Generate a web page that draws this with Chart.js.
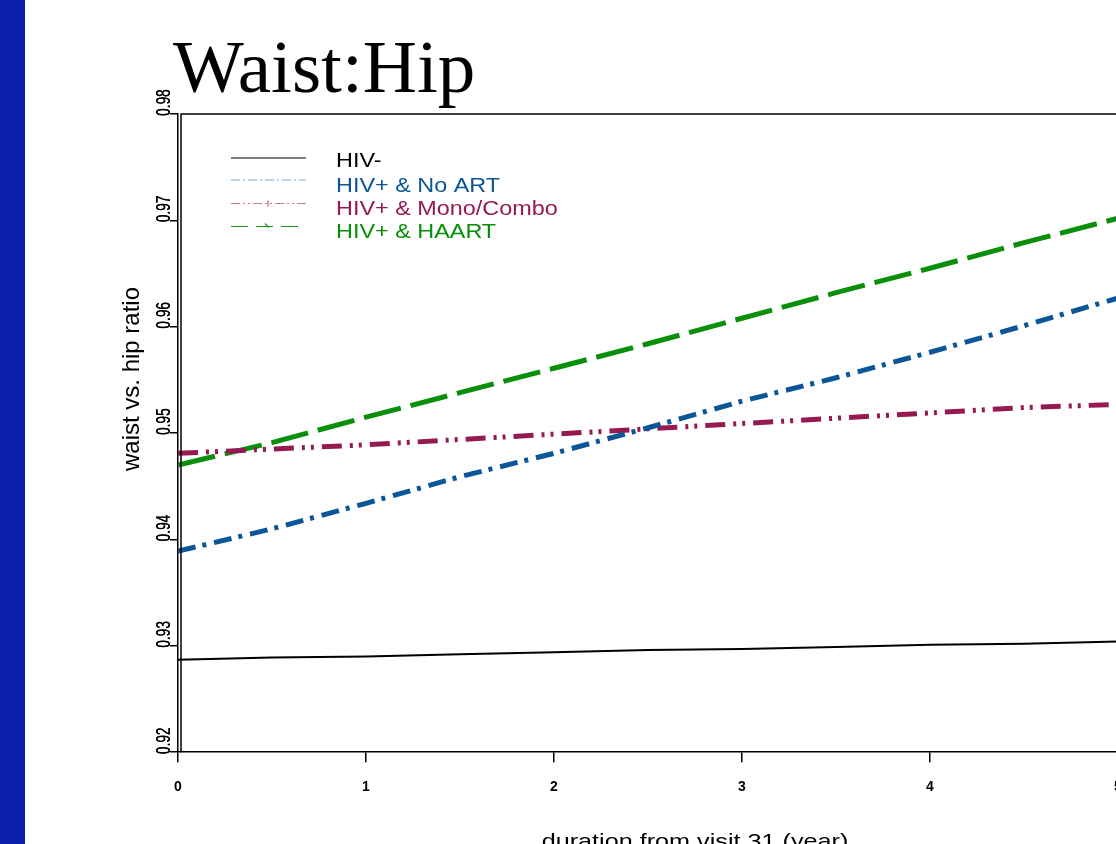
<!DOCTYPE html>
<html>
<head>
<meta charset="utf-8">
<title>Waist:Hip</title>
<script src="https://cdn.jsdelivr.net/npm/chart.js@4/dist/chart.umd.min.js"></script>
<style>
    html, body { margin: 0; padding: 0; background: #fff; overflow: hidden; width: 1116px; height: 844px; }
    #sideBar { position: absolute; left: 0; top: 0; width: 25px; height: 844px; background: #0a1fab; }
    #chartWrap { position: absolute; left: 0; top: 0; width: 1240px; height: 900px; }
</style>
</head>
<body>
<div id="chartWrap"><canvas id="waistChart"></canvas></div>
<div id="sideBar"></div>

<script>
// values (x = years since visit 31)
const years = [0, 0.5, 1, 1.5, 2, 2.5, 3, 3.5, 4, 4.5, 5];
const hivNeg = [0.9287, 0.9289, 0.9290, 0.9292, 0.9294, 0.9296, 0.9297, 0.9299, 0.9301, 0.9302, 0.9304];
const noArt = [0.9389, 0.9410, 0.9434, 0.9459, 0.9481, 0.9505, 0.9530, 0.9552, 0.9576, 0.9601, 0.9627];
const monoCombo = [0.9481, 0.9485, 0.9489, 0.9494, 0.9499, 0.9504, 0.9509, 0.9514, 0.9519, 0.9524, 0.9527];
const haart = [0.9470, 0.9491, 0.9515, 0.9538, 0.9561, 0.9584, 0.9608, 0.9632, 0.9655, 0.9679, 0.9702];

const seriesNames = ['HIV-', 'HIV+ & No ART', 'HIV+ & Mono/Combo', 'HIV+ & HAART'];
const yTicks = [0.92, 0.93, 0.94, 0.95, 0.96, 0.97, 0.98];

const chartTitle = 'Waist:Hip';
const yTitle = 'waist vs. hip ratio';
const xTitle = 'duration from visit 31 (year)';

function toPoints(arr) {
    return years.map((x, i) => ({ x: x, y: arr[i] }));
}

// legend line looks (thin, lighter than the plotted lines)
const legendStyles = [
    { color: '#000000', dash: [], mark: null },
    { color: '#7fa9cf', dash: [9, 3, 2, 3], mark: null },
    { color: '#c27c9b', dash: [9, 3, 2, 3, 2, 3], mark: 'plus' },
    { color: '#1a9a1a', dash: [17, 8], mark: 'tick' }
];

// draws title, frame, rotated y labels, axis titles and the legend
const slideDecor = {
    id: 'slideDecor',
    afterDraw(chart) {
        const ctx = chart.ctx;
        const area = chart.chartArea;
        const yScale = chart.scales.y;

        ctx.save();

        // inner frame line (left + top)
        ctx.strokeStyle = '#000';
        ctx.lineWidth = 1.5;
        ctx.beginPath();
        ctx.moveTo(area.left + 3, area.bottom);
        ctx.lineTo(area.left + 3, area.top);
        ctx.lineTo(area.right, area.top);
        ctx.stroke();

        // big title
        ctx.fillStyle = '#000';
        ctx.font = '75px "Liberation Serif", "Times New Roman", serif';
        ctx.textAlign = 'left';
        ctx.textBaseline = 'alphabetic';
        ctx.fillText(chartTitle, 173, 92);

        // y tick labels, rotated
        ctx.font = '13px "Liberation Sans", Arial, sans-serif';
        yTicks.forEach(v => {
            const py = yScale.getPixelForValue(v);
            ctx.save();
            ctx.translate(area.left - 8, py + 2);
            ctx.rotate(-Math.PI / 2);
            ctx.scale(1.05, 1.5);
            ctx.textAlign = 'left';
            ctx.textBaseline = 'alphabetic';
            ctx.fillText(v.toFixed(2), 0, 0);
            ctx.fillText(v.toFixed(2), 0.3, 0);
            ctx.restore();
        });

        // y axis title
        ctx.save();
        ctx.translate(139, 379);
        ctx.rotate(-Math.PI / 2);
        ctx.font = '24px "Liberation Sans", Arial, sans-serif';
        ctx.textAlign = 'center';
        ctx.textBaseline = 'alphabetic';
        ctx.fillText(yTitle, 0, 0);
        ctx.restore();

        // x axis title (runs off the bottom of the slide)
        ctx.save();
        ctx.translate(695, 848);
        ctx.scale(1.2, 1);
        ctx.font = '21px "Liberation Sans", Arial, sans-serif';
        ctx.textAlign = 'center';
        ctx.fillText(xTitle, 0, 0);
        ctx.restore();

        // legend
        const lineY = [158, 180, 203.5, 226.5];
        const textY = [167, 191.5, 215, 238];
        chart.data.datasets.forEach((ds, i) => {
            const st = legendStyles[i];
            ctx.save();
            ctx.strokeStyle = st.color;
            ctx.lineWidth = 1.2;
            ctx.setLineDash(st.dash);
            ctx.beginPath();
            ctx.moveTo(231, lineY[i]);
            ctx.lineTo(306, lineY[i]);
            ctx.stroke();
            ctx.setLineDash([]);
            if (st.mark === 'plus') {
                ctx.lineWidth = 1.5;
                ctx.beginPath();
                ctx.moveTo(268, lineY[i] - 3);
                ctx.lineTo(268, lineY[i] + 3);
                ctx.stroke();
            } else if (st.mark === 'tick') {
                ctx.beginPath();
                ctx.moveTo(265, lineY[i] - 3);
                ctx.lineTo(269, lineY[i] + 1);
                ctx.stroke();
            }
            ctx.restore();

            ctx.save();
            ctx.translate(336, textY[i]);
            ctx.scale(1.2, 1);
            ctx.font = '19.5px "Liberation Sans", Arial, sans-serif';
            ctx.fillStyle = ds.borderColor === '#000000' ? '#000' : ds.borderColor;
            ctx.textAlign = 'left';
            ctx.fillText(ds.label, 0, 0);
            ctx.restore();
        });

        ctx.restore();
    }
};

const ctx = document.getElementById('waistChart').getContext('2d');

window.waistChart = new Chart(ctx, {
    type: 'line',
    data: {
        datasets: [{
            label: seriesNames[0],
            data: toPoints(hivNeg),
            borderColor: '#000000',
            borderWidth: 2,
            borderDash: []
        }, {
            label: seriesNames[1],
            data: toPoints(noArt),
            borderColor: '#0b5699',
            borderWidth: 5,
            borderDash: [18, 7, 4, 8]
        }, {
            label: seriesNames[2],
            data: toPoints(monoCombo),
            borderColor: '#961a52',
            borderWidth: 5,
            borderDash: [20, 8, 3, 6, 3, 8]
        }, {
            label: seriesNames[3],
            data: toPoints(haart),
            borderColor: '#0a8f0a',
            borderWidth: 5,
            borderDash: [38, 10]
        }]
    },
    options: {
        responsive: true,
        maintainAspectRatio: false,
        animation: false,
        layout: {
            padding: { left: 170, top: 114, right: 28, bottom: 87 }
        },
        elements: {
            point: { radius: 0 },
            line: { tension: 0, borderCapStyle: 'butt', fill: false }
        },
        plugins: {
            legend: { display: false },
            tooltip: { enabled: false }
        },
        scales: {
            x: {
                type: 'linear',
                min: 0,
                max: 5.5,
                afterBuildTicks: axis => {
                    axis.ticks = axis.ticks.filter(t => Number.isInteger(t.value));
                },
                ticks: {
                    stepSize: 1,
                    color: '#000',
                    padding: 17,
                    maxRotation: 0,
                    font: { family: '"Liberation Sans", Arial, sans-serif', size: 14, weight: 'bold' }
                },
                grid: { drawOnChartArea: false, tickLength: 10, color: '#000', lineWidth: 1.5 },
                border: { color: '#000', width: 1.5 }
            },
            y: {
                min: 0.92,
                max: 0.98,
                ticks: { stepSize: 0.01, display: false },
                grid: { drawOnChartArea: false, tickLength: 8, color: '#000', lineWidth: 1.5 },
                border: { color: '#000', width: 1.5 }
            }
        }
    },
    plugins: [slideDecor]
});
</script>
</body>
</html>
